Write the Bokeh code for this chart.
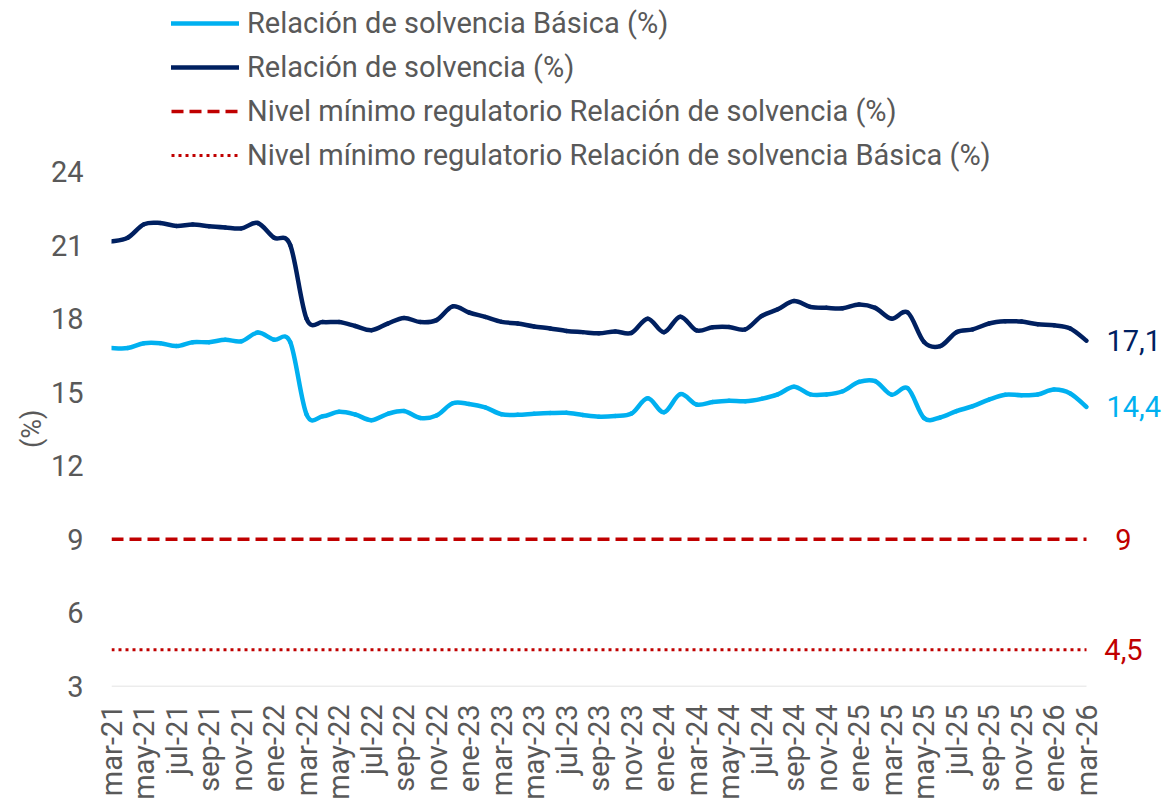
from bokeh.plotting import figure
from bokeh.models import Range1d, FixedTicker, Legend, LegendItem, Label, Title
from bokeh.embed import file_html
from bokeh.resources import INLINE

# ---------------- data ----------------
months = [
    "mar-21", "abr-21", "may-21", "jun-21", "jul-21", "ago-21", "sep-21", "oct-21", "nov-21", "dic-21",
    "ene-22", "feb-22", "mar-22", "abr-22", "may-22", "jun-22", "jul-22", "ago-22", "sep-22", "oct-22",
    "nov-22", "dic-22", "ene-23", "feb-23", "mar-23", "abr-23", "may-23", "jun-23", "jul-23", "ago-23",
    "sep-23", "oct-23", "nov-23", "dic-23", "ene-24", "feb-24", "mar-24", "abr-24", "may-24", "jun-24",
    "jul-24", "ago-24", "sep-24", "oct-24", "nov-24", "dic-24", "ene-25", "feb-25", "mar-25", "abr-25",
    "may-25", "jun-25", "jul-25", "ago-25", "sep-25", "oct-25", "nov-25", "dic-25", "ene-26", "feb-26",
    "mar-26",
]

solv_basica = [
    16.8, 16.8, 17.0, 17.0, 16.88, 17.04, 17.04, 17.14, 17.08, 17.43, 17.14, 17.04,
    14.1, 14.02, 14.2, 14.09, 13.86, 14.12, 14.23, 13.95, 14.05, 14.55, 14.52, 14.38,
    14.1, 14.08, 14.12, 14.15, 14.16, 14.07, 14.0, 14.03, 14.13, 14.75, 14.18, 14.92,
    14.5, 14.6, 14.65, 14.63, 14.73, 14.91, 15.22, 14.91, 14.91, 15.04, 15.42, 15.45,
    14.9, 15.16, 13.95, 13.97, 14.23, 14.43, 14.7, 14.9, 14.88, 14.91, 15.11, 14.95, 14.4,
]

solv_total = [
    21.15, 21.3, 21.85, 21.9, 21.78, 21.84, 21.77, 21.72, 21.68, 21.9, 21.3, 21.0,
    18.0, 17.86, 17.86, 17.7, 17.53, 17.8, 18.03, 17.86, 17.94, 18.5, 18.25, 18.07,
    17.87, 17.8, 17.68, 17.6, 17.5, 17.45, 17.4, 17.48, 17.42, 18.0, 17.45, 18.08,
    17.52, 17.65, 17.66, 17.56, 18.1, 18.38, 18.72, 18.48, 18.44, 18.42, 18.58, 18.44,
    18.0, 18.25, 17.05, 16.88, 17.45, 17.56, 17.8, 17.89, 17.88, 17.77, 17.73, 17.6, 17.1,
]

reg_total = 9.0
reg_basica = 4.5

y_ticks = [3, 6, 9, 12, 15, 18, 21, 24]

series_names = [
    "Relación de solvencia Básica (%)",
    "Relación de solvencia (%)",
    "Nivel mínimo regulatorio Relación de solvencia (%)",
    "Nivel mínimo regulatorio Relación de solvencia Básica (%)",
]

# ---------------- style / layout ----------------
C_LIGHT = "#00B0F0"
C_NAVY = "#002060"
C_RED = "#C00000"
C_TEXT = "#595959"
C_AXIS = "#D9D9D9"
FONT = "Roboto"
FS = "29px"

FIG_W, FIG_H = 1166, 799
LEFT = 111            # frame left (px)
DATA_W = 975          # px spanned by the monthly data
PLOT_BOTTOM = 686     # px of the y=3 baseline
DATA_H = 515          # px from y=3 to y=24

xs = list(range(len(months)))
x_per_px = (xs[-1] - xs[0]) / DATA_W
y_per_px = (y_ticks[-1] - y_ticks[0]) / DATA_H
frame_w = FIG_W - LEFT
frame_h = PLOT_BOTTOM


def fmt(v):
    s = f"{v:.1f}"
    if s.endswith(".0"):
        s = s[:-2]
    return s.replace(".", ",")


def smooth_segments(x, y):
    """Excel-like smoothed line as cubic Bezier segments (Catmull-Rom)."""
    n = len(x)
    x0, y0, x1, y1, cx0, cy0, cx1, cy1 = [], [], [], [], [], [], [], []
    for i in range(n - 1):
        ip = max(i - 1, 0)
        inx = min(i + 2, n - 1)
        x0.append(x[i]); y0.append(y[i])
        x1.append(x[i + 1]); y1.append(y[i + 1])
        cx0.append(x[i] + (x[i + 1] - x[ip]) / 6.0)
        cy0.append(y[i] + (y[i + 1] - y[ip]) / 6.0)
        cx1.append(x[i + 1] - (x[inx] - x[i]) / 6.0)
        cy1.append(y[i + 1] - (y[inx] - y[i]) / 6.0)
    return dict(x0=x0, y0=y0, x1=x1, y1=y1, cx0=cx0, cy0=cy0, cx1=cx1, cy1=cy1)


p = figure(
    frame_width=frame_w, frame_height=frame_h,
    min_border_left=LEFT, min_border_right=0,
    min_border_top=0, min_border_bottom=FIG_H - frame_h,
    x_range=Range1d(xs[0], xs[0] + frame_w * x_per_px),
    y_range=Range1d(y_ticks[0], y_ticks[0] + frame_h * y_per_px),
    output_backend="svg", toolbar_location=None,
)
p.outline_line_color = None
p.grid.visible = False

# baseline (category axis line) spanning the data only
p.segment(x0=[xs[0]], y0=[y_ticks[0]], x1=[xs[-1]], y1=[y_ticks[0]],
          line_color=C_AXIS, line_width=1.5)

# regulatory minimums
r_reg_total = p.line(xs, [reg_total] * len(xs), line_color=C_RED, line_width=3.5,
                     line_dash="12 6")
r_reg_basica = p.line(xs, [reg_basica] * len(xs), line_color=C_RED, line_width=3,
                      line_dash="3 4")

# series (smoothed)
r_basica = p.bezier(**smooth_segments(xs, solv_basica), line_color=C_LIGHT,
                    line_width=4.5, line_cap="round")
r_total = p.bezier(**smooth_segments(xs, solv_total), line_color=C_NAVY,
                   line_width=4.5, line_cap="round")

# axes
p.xaxis.ticker = FixedTicker(ticks=xs[::2])
p.xaxis.major_label_overrides = {i: months[i] for i in xs}
p.xaxis.major_label_orientation = 3.14159265 / 2
p.xaxis.major_label_text_font = FONT
p.xaxis.major_label_text_font_size = FS
p.xaxis.major_label_text_color = C_TEXT
p.xaxis.major_label_standoff = 12
p.xaxis.axis_line_color = None
p.xaxis.major_tick_line_color = None
p.xaxis.minor_tick_line_color = None

p.yaxis.ticker = FixedTicker(ticks=y_ticks)
p.yaxis.major_label_text_font = FONT
p.yaxis.major_label_text_font_size = FS
p.yaxis.major_label_text_color = C_TEXT
p.yaxis.major_label_standoff = 22
p.yaxis.axis_line_color = None
p.yaxis.major_tick_line_color = None
p.yaxis.minor_tick_line_color = None

# y-axis caption, centred on the data area (not on the taller frame)
CAPTION_LEN = 38  # approx. px length of "(%)" at 27px
p.add_layout(Title(
    text="(%)", align="left", offset=DATA_H / 2 - CAPTION_LEN / 2,
    text_font=FONT, text_font_size="27px", text_font_style="normal",
    text_color=C_TEXT, standoff=0,
), "left")

# legend (inside the frame, above the data area)
ITEM_H = 34
legend = Legend(
    items=[
        LegendItem(label=series_names[0], renderers=[r_basica]),
        LegendItem(label=series_names[1], renderers=[r_total]),
        LegendItem(label=series_names[2], renderers=[r_reg_total]),
        LegendItem(label=series_names[3], renderers=[r_reg_basica]),
    ],
    location=(60, frame_h - 6 - (4 * ITEM_H + 3 * 10)),
    orientation="vertical",
    label_text_font=FONT,
    label_text_font_size=FS,
    label_text_color=C_TEXT,
    label_standoff=8,
    glyph_width=68,
    glyph_height=ITEM_H,
    label_height=ITEM_H,
    spacing=10,
    padding=0,
    margin=0,
    border_line_color=None,
    background_fill_alpha=0,
)
p.add_layout(legend, "center")

# end labels
end_x = xs[-1]
for val, color, off, align in [
    (solv_total[-1], C_NAVY, 20, "left"),
    (solv_basica[-1], C_LIGHT, 20, "left"),
    (reg_total, C_RED, 37, "center"),
    (reg_basica, C_RED, 37, "center"),
]:
    p.add_layout(Label(
        x=end_x, y=val, text=fmt(val), x_offset=off,
        text_align=align, text_baseline="middle",
        text_font=FONT, text_font_size=FS, text_color=color,
    ))

open("out.html", "w").write(file_html(p, INLINE))
